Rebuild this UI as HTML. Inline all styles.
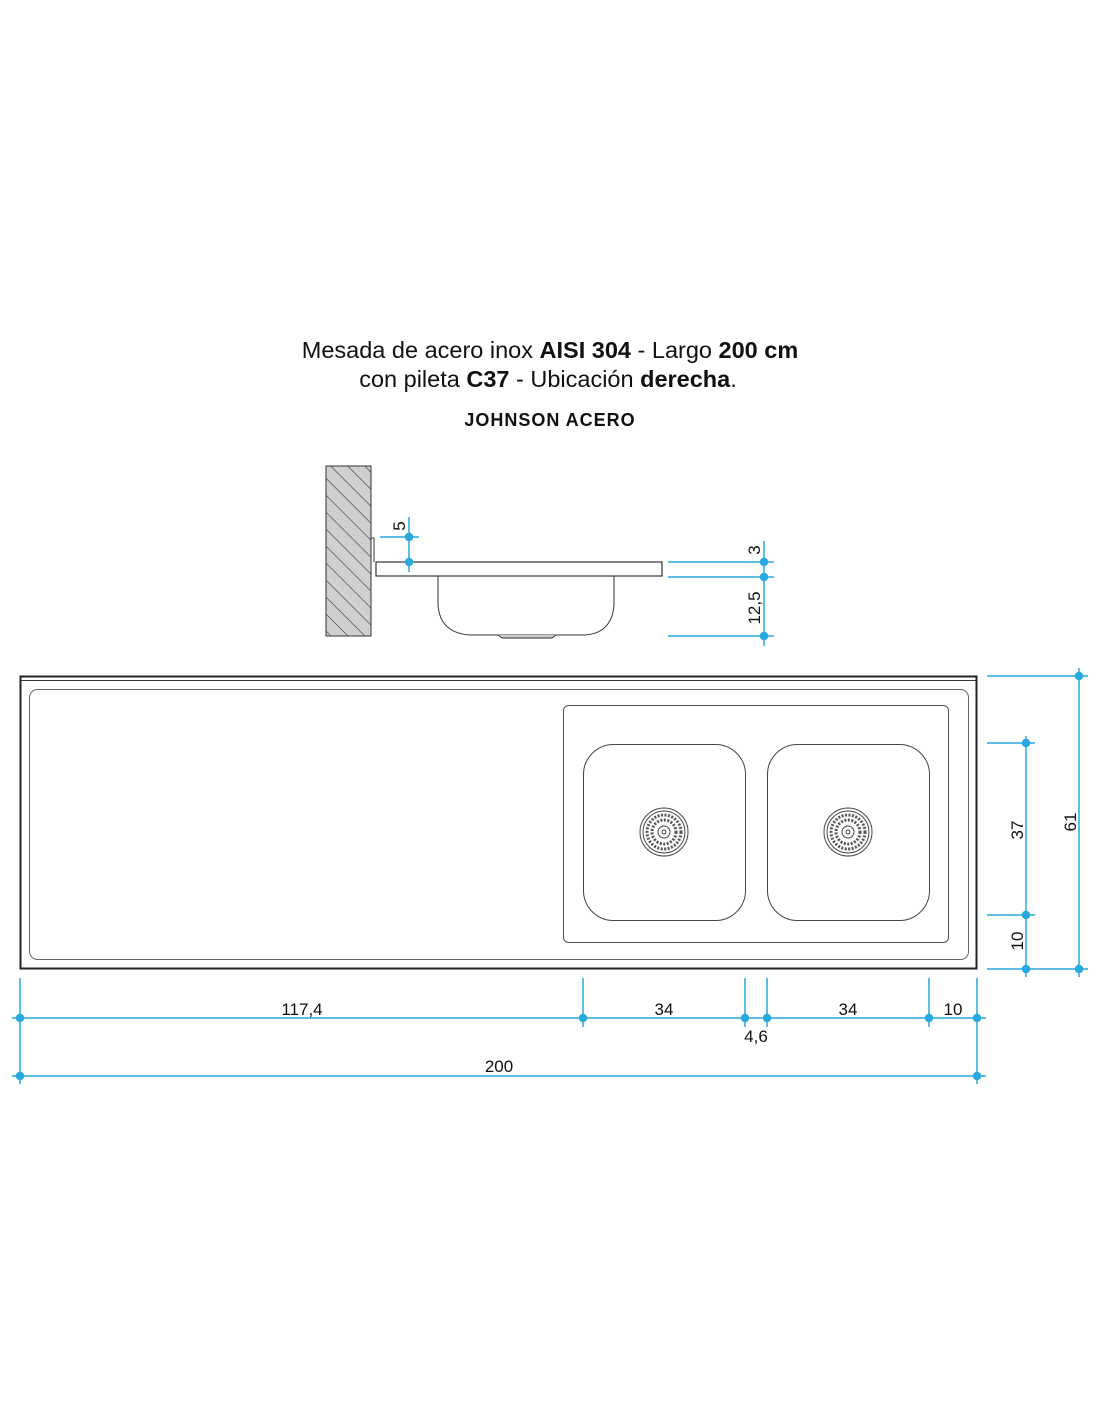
<!DOCTYPE html>
<html><head><meta charset="utf-8"><style>
html,body{margin:0;padding:0;background:#fff}
svg{display:block}
text{font-family:"Liberation Sans",sans-serif}
</style></head><body>
<svg width="1100" height="1422" viewBox="0 0 1100 1422" xmlns="http://www.w3.org/2000/svg">
<defs>
<pattern id="h" width="12" height="12" patternUnits="userSpaceOnUse" patternTransform="rotate(-45)">
<rect width="12" height="12" fill="#cfcfcf"/><line x1="0" y1="0" x2="0" y2="12" stroke="#333" stroke-width="1.2"/>
</pattern>
<g id="drain">
<circle r="24" fill="#fff" stroke="#444" stroke-width="1"/>
<circle r="21" fill="none" stroke="#444" stroke-width="1"/>
<circle r="17" fill="none" stroke="#555" stroke-width="3" stroke-dasharray="2 1.5"/>
<circle r="12" fill="none" stroke="#555" stroke-width="3" stroke-dasharray="2 1.5"/>
<circle r="6" fill="#fff" stroke="#444"/>
<circle r="2" fill="none" stroke="#444"/>
</g>
</defs>
<text x="550" y="358" font-size="23.5" text-anchor="middle" fill="#111">Mesada de acero inox <tspan font-weight="bold">AISI 304</tspan> - Largo <tspan font-weight="bold">200 cm</tspan></text>
<text x="548" y="387" font-size="23.5" text-anchor="middle" fill="#111">con pileta <tspan font-weight="bold">C37</tspan> - Ubicación <tspan font-weight="bold">derecha</tspan>.</text>
<text x="550" y="426" font-size="18" font-weight="bold" text-anchor="middle" fill="#111" letter-spacing="1">JOHNSON ACERO</text>

<!-- side view -->
<rect x="326" y="466" width="45" height="170" fill="url(#h)" stroke="#333" stroke-width="1"/>
<path d="M371 538 H374 V562" fill="none" stroke="#333" stroke-width="1"/>
<rect x="376" y="562" width="286" height="14" fill="#fff" stroke="#333" stroke-width="1.2"/>
<path d="M438 576 V605 Q440 633 470 635 H585 Q612 633 614 605 V576" fill="none" stroke="#333" stroke-width="1"/>
<path d="M498 635 L502 638 H552 L556 635" fill="#ccc" stroke="#333" stroke-width="1"/>

<g stroke="#29a8e0" stroke-width="1.5" fill="#29a8e0">
<line x1="409" y1="517" x2="409" y2="572"/>
<line x1="380" y1="537" x2="419" y2="537"/>
<circle cx="409" cy="537" r="3.5"/><circle cx="409" cy="562" r="3.5"/>
<line x1="668" y1="562" x2="774" y2="562"/>
<line x1="668" y1="577" x2="774" y2="577"/>
<line x1="668" y1="636" x2="774" y2="636"/>
<line x1="764" y1="541" x2="764" y2="646"/>
<circle cx="764" cy="562" r="3.5"/><circle cx="764" cy="577" r="3.5"/><circle cx="764" cy="636" r="3.5"/>
</g>
<text transform="translate(405,526) rotate(-90)" font-size="17" text-anchor="middle" fill="#111">5</text>
<text transform="translate(760,550) rotate(-90)" font-size="17" text-anchor="middle" fill="#111">3</text>
<text transform="translate(760,608) rotate(-90)" font-size="17" text-anchor="middle" fill="#111">12,5</text>

<!-- top view -->
<rect x="20.5" y="676.5" width="956" height="292" fill="#fff" stroke="#222" stroke-width="2"/>
<line x1="21" y1="680.5" x2="976" y2="680.5" stroke="#333" stroke-width="1"/>
<rect x="29.5" y="689.5" width="939" height="270" rx="8" fill="none" stroke="#666" stroke-width="1"/>
<rect x="563.5" y="705.5" width="385" height="237" rx="5" fill="none" stroke="#555" stroke-width="1"/>
<rect x="583.5" y="744.5" width="162" height="176" rx="30" fill="none" stroke="#444" stroke-width="1"/>
<rect x="767.5" y="744.5" width="162" height="176" rx="30" fill="none" stroke="#444" stroke-width="1"/>
<use href="#drain" x="664" y="832"/>
<use href="#drain" x="848" y="832"/>

<g stroke="#29a8e0" stroke-width="1.5" fill="#29a8e0">
<line x1="987" y1="676" x2="1088" y2="676"/>
<line x1="987" y1="743" x2="1035" y2="743"/>
<line x1="987" y1="915" x2="1035" y2="915"/>
<line x1="987" y1="969" x2="1088" y2="969"/>
<line x1="1026" y1="736" x2="1026" y2="977"/>
<line x1="1079" y1="668" x2="1079" y2="977"/>
<circle cx="1026" cy="743" r="3.5"/><circle cx="1026" cy="915" r="3.5"/><circle cx="1026" cy="969" r="3.5"/>
<circle cx="1079" cy="676" r="3.5"/><circle cx="1079" cy="969" r="3.5"/>

<line x1="12" y1="1018" x2="986" y2="1018"/>
<line x1="12" y1="1076" x2="986" y2="1076"/>
<line x1="20" y1="978" x2="20" y2="1084"/>
<line x1="583" y1="978" x2="583" y2="1027"/>
<line x1="745" y1="978" x2="745" y2="1027"/>
<line x1="767" y1="978" x2="767" y2="1027"/>
<line x1="929" y1="978" x2="929" y2="1027"/>
<line x1="977" y1="978" x2="977" y2="1084"/>
<circle cx="20" cy="1018" r="3.5"/><circle cx="583" cy="1018" r="3.5"/><circle cx="745" cy="1018" r="3.5"/>
<circle cx="767" cy="1018" r="3.5"/><circle cx="929" cy="1018" r="3.5"/><circle cx="977" cy="1018" r="3.5"/>
<circle cx="20" cy="1076" r="3.5"/><circle cx="977" cy="1076" r="3.5"/>
</g>
<g font-size="17" fill="#111" text-anchor="middle">
<text transform="translate(1023,830) rotate(-90)">37</text>
<text transform="translate(1023,941) rotate(-90)">10</text>
<text transform="translate(1076,822) rotate(-90)">61</text>
<text x="302" y="1015">117,4</text>
<text x="664" y="1015">34</text>
<text x="848" y="1015">34</text>
<text x="953" y="1015">10</text>
<text x="756" y="1042">4,6</text>
<text x="499" y="1072">200</text>
</g>
</svg>
</body></html>
